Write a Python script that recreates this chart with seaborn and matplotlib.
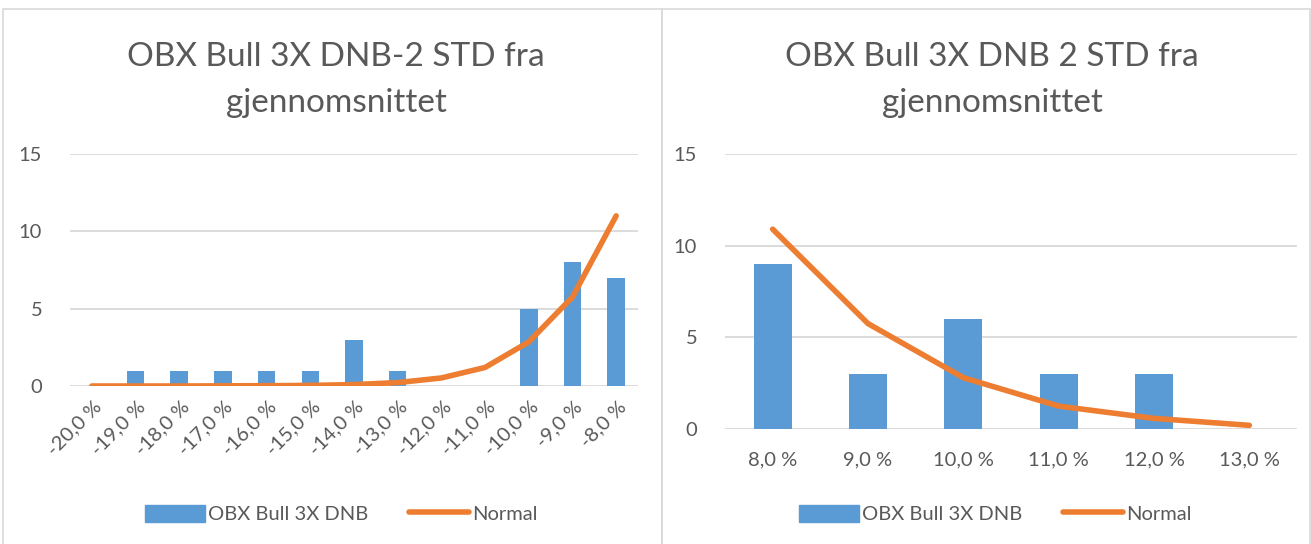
"""Histogram of OBX Bull 3X DNB returns beyond 2 STD, with fitted normal curve."""

import matplotlib

matplotlib.use("Agg")
import matplotlib.pyplot as plt
import matplotlib.transforms as mtransforms
import pandas as pd
import seaborn as sns
from matplotlib.lines import Line2D
from matplotlib.patches import Patch, Rectangle

# --- data -----------------------------------------------------------------
left_cats = ["-20,0 %", "-19,0 %", "-18,0 %", "-17,0 %", "-16,0 %", "-15,0 %", "-14,0 %",
             "-13,0 %", "-12,0 %", "-11,0 %", "-10,0 %", "-9,0 %", "-8,0 %"]
left_counts = [0, 1, 1, 1, 1, 1, 3, 1, 0, 0, 5, 8, 7]
left_normal = [0.0, 0.0, 0.0, 0.01, 0.02, 0.04, 0.09, 0.22, 0.52, 1.2, 2.85, 5.75, 11.0]

right_cats = ["8,0 %", "9,0 %", "10,0 %", "11,0 %", "12,0 %", "13,0 %"]
right_counts = [9, 3, 6, 3, 3, 0]
right_normal = [10.9, 5.75, 2.8, 1.25, 0.58, 0.2]

left_title = "OBX Bull 3X DNB-2 STD fra\ngjennomsnittet"
right_title = "OBX Bull 3X DNB 2 STD fra\ngjennomsnittet"
series_bar = "OBX Bull 3X DNB"
series_line = "Normal"
y_ticks = [0, 5, 10, 15]

BAR = "#5B9BD5"
LINE = "#ED7D31"
TEXT = "#595959"
GRID = "#D9D9D9"

sns.set_theme(style="white")
plt.rcParams["font.family"] = ["Lato", "DejaVu Sans"]

W, H = 1311, 544
fig = plt.figure(figsize=(W / 100, H / 100), dpi=100)


def px(x0, y0, x1, y1):
    """Pixel box (top-left origin) -> figure fraction rect."""
    return [x0 / W, 1 - y1 / H, (x1 - x0) / W, (y1 - y0) / H]


# panel borders
for x0, x1 in [(3, 662), (662, 1310)]:
    fig.patches.append(Rectangle((x0 / W, -0.1), (x1 - x0) / W, 1.1 - 9 / H,
                                 transform=fig.transFigure, fill=False,
                                 edgecolor=GRID, linewidth=1.2))


def draw_panel(rect, cats, counts, normal, title, title_xy, legend_xy, rotate):
    ax = fig.add_axes(rect)
    df = pd.DataFrame({"cat": cats, "count": counts, "normal": normal})
    sns.barplot(data=df, x="cat", y="count", color=BAR, width=0.4,
                saturation=1, linewidth=0, ax=ax, zorder=2)
    sns.lineplot(data=df, x="cat", y="normal", color=LINE, linewidth=4,
                 ax=ax, zorder=3, solid_capstyle="round")
    ax.set_ylim(0, 15)
    ax.set_xlim(-0.5, len(cats) - 0.5)
    ax.set_yticks(y_ticks)
    ax.yaxis.grid(True, color=GRID, linewidth=1.3)
    ax.set_axisbelow(True)
    for s in ax.spines.values():
        s.set_visible(False)
    ax.set_xlabel("")
    ax.set_ylabel("")
    ax.tick_params(axis="y", length=0, pad=20, labelsize=14.5, labelcolor=TEXT)
    ax.tick_params(axis="x", length=0, labelsize=14.5, labelcolor=TEXT)
    if rotate:
        ax.tick_params(axis="x", pad=13)
        shift = mtransforms.ScaledTranslation(7 / 100, 0, fig.dpi_scale_trans)
        for lab in ax.get_xticklabels():
            lab.set_rotation(45)
            lab.set_ha("right")
            lab.set_rotation_mode("anchor")
            lab.set_va("center")
            lab.set_transform(lab.get_transform() + shift)
    else:
        ax.tick_params(axis="x", pad=16)
    fig.text(title_xy[0] / W, 1 - title_xy[1] / H, title, ha="center", va="center",
             fontsize=24, color=TEXT, linespacing=1.68)
    handles = [Patch(color=BAR, label=series_bar),
               Line2D([], [], color=LINE, linewidth=4, label=series_line)]
    fig.legend(handles=handles, loc="center", ncol=2,
               bbox_to_anchor=(legend_xy[0] / W, 1 - legend_xy[1] / H),
               frameon=False, fontsize=14.5, labelcolor=TEXT, handlelength=3.0,
               handleheight=0.9, handletextpad=0.15, columnspacing=2.0)
    return ax


draw_panel(px(70, 154, 638, 386), left_cats, left_counts, left_normal,
           left_title, (336, 80), (341, 514), rotate=True)
draw_panel(px(725, 154, 1297, 429), right_cats, right_counts, right_normal,
           right_title, (992, 80), (995, 514), rotate=False)

fig.savefig("out.png", dpi=100)
plt.close(fig)
